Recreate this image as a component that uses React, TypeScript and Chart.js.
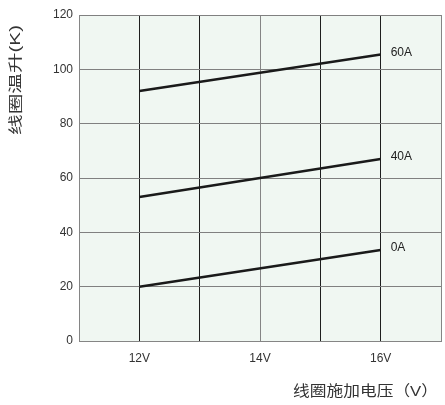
import React, { useEffect, useRef } from "react";
import { Chart, registerables } from "chart.js";

Chart.register(...registerables);

const voltages = [12, 16];
const series = [
  { label: "0A", values: [20, 33.5] },
  { label: "40A", values: [53, 67] },
  { label: "60A", values: [92, 105.5] },
];
const xTickLabels: Record<number, string> = { 12: "12V", 14: "14V", 16: "16V" };
const yTitle = "线圈温升(K)";
const xTitle = "线圈施加电压（V）";

const FONT = "'Liberation Sans', Arial, 'Noto Sans CJK SC', sans-serif";

const bgPlugin = {
  id: "bg",
  beforeDraw(chart: any) {
    const { ctx, chartArea } = chart;
    ctx.save();
    ctx.fillStyle = "#f0f7f2";
    ctx.fillRect(chartArea.left, chartArea.top, chartArea.right - chartArea.left, chartArea.bottom - chartArea.top);
    ctx.restore();
  },
};

function fitText(ctx: CanvasRenderingContext2D, text: string, cx: number, cy: number, targetW: number) {
  const w = ctx.measureText(text).width;
  ctx.save();
  ctx.translate(cx, cy);
  ctx.scale(targetW / w, 1);
  ctx.textAlign = "center";
  ctx.fillText(text, 0, 0);
  ctx.restore();
}

const labelPlugin = {
  id: "labels",
  afterDraw(chart: any) {
    const { ctx } = chart;
    ctx.save();
    ctx.font = `12px ${FONT}`;
    ctx.fillStyle = "#222";
    ctx.textBaseline = "middle";
    ctx.textAlign = "left";
    chart.data.datasets.forEach((ds: any, i: number) => {
      const meta = chart.getDatasetMeta(i);
      const pt = meta.data[meta.data.length - 1];
      ctx.fillText(ds.label, pt.x + 10, pt.y - 2);
    });
    ctx.fillStyle = "#333";
    ctx.font = `15px ${FONT}`;
    ctx.textBaseline = "middle";
    fitText(ctx, xTitle, 365.5, 392, 145);
    ctx.translate(16, 80);
    ctx.rotate(-Math.PI / 2);
    ctx.font = `14px ${FONT}`;
    fitText(ctx, yTitle, 0, 0, 110);
    ctx.restore();
  },
};

export default function App() {
  const ref = useRef<HTMLCanvasElement>(null);
  useEffect(() => {
    if (!ref.current) return;
    const chart = new Chart(ref.current, {
      type: "line",
      data: {
        datasets: series.map((s) => ({
          label: s.label,
          data: voltages.map((v, i) => ({ x: v, y: s.values[i] })),
          borderColor: "#1a1a1a",
          borderWidth: 2.5,
          pointRadius: 0,
          fill: false,
        })),
      },
      options: {
        animation: false,
        responsive: false,
        devicePixelRatio: 1,
        layout: { padding: { left: 0, right: 4, top: 15, bottom: 0 } },
        plugins: { legend: { display: false }, tooltip: { enabled: false } },
        scales: {
          x: {
            type: "linear",
            min: 11,
            max: 17,
            afterFit: (s: any) => {
              s.height = 64;
              s.paddingLeft = 0;
              s.paddingRight = 0;
            },
            ticks: {
              stepSize: 1,
              padding: 10,
              color: "#333",
              font: { family: FONT, size: 12 },
              maxRotation: 0,
              autoSkip: false,
              callback: (v: any) => xTickLabels[v as number] ?? "",
            },
            grid: {
              drawTicks: false,
              lineWidth: 1,
              color: (c: any) => {
                const v = c.tick?.value;
                return v === 12 || v === 13 || v === 15 || v === 16 ? "#1e1e1e" : "#858585";
              },
            },
            border: { display: true, color: "#858585", width: 1 },
          },
          y: {
            min: 0,
            max: 120,
            afterFit: (s: any) => {
              s.width = 79;
              s.paddingTop = 0;
              s.paddingBottom = 0;
            },
            ticks: {
              stepSize: 20,
              padding: 6,
              color: "#333",
              font: { family: FONT, size: 12 },
            },
            grid: {
              drawTicks: false,
              lineWidth: 1,
              color: "#808080",
            },
            border: { display: true, color: "#858585", width: 1 },
          },
        },
      },
      plugins: [bgPlugin, labelPlugin],
    });
    return () => chart.destroy();
  }, []);
  return (
    <div style={{ position: "fixed", left: 0, top: 0, width: 445, height: 405, background: "#fff" }}>
      <canvas ref={ref} width={445} height={405} style={{ width: 445, height: 405 }} />
    </div>
  );
}
